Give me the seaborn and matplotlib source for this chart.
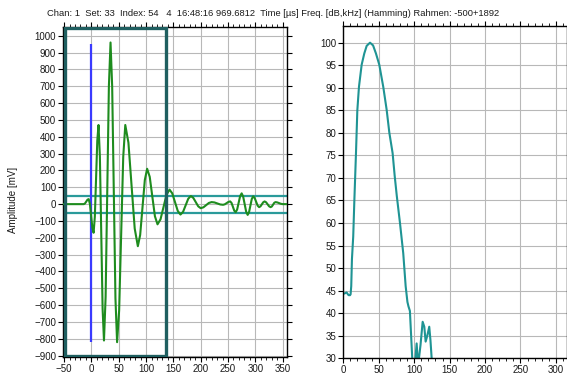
import numpy as np
import pandas as pd
import matplotlib
matplotlib.use("Agg")
import matplotlib.pyplot as plt
from matplotlib.ticker import MultipleLocator
from matplotlib.patches import Rectangle
import seaborn as sns

# Time signal (µs, mV)
wave_t = [-52, -30, -14, -11.75, -9.5, -7.25, -5, -2.75, -0.5, 1.75, 4,
          6.25, 8.5, 10.75, 13, 15.5, 18, 20.5, 23, 26, 29, 32, 35,
          38, 41, 44, 47, 50.75, 54.5, 58.25, 62, 67.75, 73.5, 79.25, 85,
          89.25, 93.5, 97.75, 102, 106.75, 111.5, 116.25, 121, 126.5, 132, 137.5, 143,
          148, 153, 158, 163, 167.75, 172.5, 177.25, 182, 186.5, 191, 195.5, 200,
          205, 210, 215, 220, 225.25, 230.5, 235.75, 241, 244.25, 247.5, 250.75, 254,
          256.5, 259, 261.5, 264, 266.75, 269.5, 272.25, 275, 277.75, 280.5, 283.25, 286,
          288.5, 291, 293.5, 296, 298.75, 301.5, 304.25, 307, 309.5, 312, 314.5, 317,
          319.75, 322.5, 325.25, 328, 330.25, 332.5, 334.75, 337, 340.25, 343.5, 346.75, 350,
          358]
wave_mv = [0, 0, 0, 4, 15, 26, 30, 1, -70, -141, -170,
           -76, 150, 376, 470, 283, -170, -623, -810, -551, 75, 701, 960,
           699, 70, -559, -820, -631, -175, 281, 470, 365, 110, -145, -250,
           -183, -20, 143, 210, 162, 45, -72, -120, -90, -17, 56, 86,
           64, 12, -40, -62, -46, -7, 32, 48, 37, 12, -13, -24,
           -19, -6, 7, 12, 10, 4, -2, -4, -1, 6, 13, 16,
           7, -16, -39, -48, -32, 8, 48, 64, 45, 0, -45, -64,
           -48, -9, 30, 46, 37, 14, -9, -18, -13, -1, 11, 16,
           11, -1, -13, -18, -14, -3, 8, 12, 10, 6, 2, 0,
           0]

# Trigger marker and threshold band
trigger_t = 0
trigger_span = [-820, 950]
threshold_mv = 50
window_t = [-49, 136]
window_mv = [-900, 1044]

# Spectrum (kHz, dB)
spec_khz = [0, 2, 4.7, 6, 7.5, 9.5, 10.3, 11.2, 12.2, 14,
            15.6, 17.9, 19.8, 22.1, 25.9, 29.6, 33, 37.7, 42, 46.1,
            50.8, 56.4, 61.2, 65, 69.6, 72.5, 75.5, 80, 84.6, 88,
            90.5, 92, 94, 97.3, 98.5, 100.5, 101.8, 103.5, 104.9, 106,
            106.8, 109, 112, 114.3, 116.2, 118.5, 121.3, 123, 124.7, 126]
spec_db = [44.3, 44.4, 44.6, 44.3, 44.0, 44.0, 44.2, 46, 52, 57,
           65, 75.5, 85, 90.2, 95.1, 97.6, 99.3, 100, 99.4, 97.6,
           95.1, 90.2, 85.1, 80, 75.5, 70.5, 66, 60, 53.3, 46,
           42.5, 41.5, 40.5, 30, 27, 27, 30, 33.3, 30, 27,
           30, 33, 38.1, 37, 33.7, 35, 37, 34, 30, 27]

title = ("Chan: 1  Set: 33  Index: 54   4  16:48:16 969.6812  Time [µs] "
         "Freq. [dB,kHz] (Hamming) Rahmen: -500+1892")

sns.set_theme(style="white")
plt.rcParams["font.family"] = ["Liberation Sans", "DejaVu Sans"]
plt.rcParams["font.size"] = 7

W, H = 567, 376
fig = plt.figure(figsize=(W / 100, H / 100), dpi=100)
fig.patch.set_facecolor("white")

def px_axes(x0, y0, x1, y1):
    return fig.add_axes([x0 / W, 1 - y1 / H, (x1 - x0) / W, (y1 - y0) / H])

ax1 = px_axes(63, 27, 287, 357)
ax2 = px_axes(343.3, 26, 566.5, 358.3)

grid_col = "#b8b8b8"
for ax in (ax1, ax2):
    ax.set_facecolor("white")
    ax.grid(True, which="major", color=grid_col, linewidth=0.8)
    ax.set_axisbelow(True)
    for s in ax.spines.values():
        s.set_color("black")
        s.set_linewidth(1.0)
        s.set_visible(True)
    ax.xaxis.set_major_locator(MultipleLocator(50))
    ax.xaxis.set_minor_locator(MultipleLocator(10))
    ax.tick_params(which="both", direction="out", top=True, right=True,
                   bottom=True, left=True, labeltop=False, labelright=False,
                   colors="black", labelcolor="#1a1a1a", labelsize=7, pad=1.5)
    ax.tick_params(which="major", length=3.5, width=0.8)
    ax.tick_params(which="minor", length=2, width=0.6)

# Left panel: time signal
wave = pd.DataFrame({"t": wave_t, "mv": wave_mv})
ax1.axhline(threshold_mv, color="#2a9a9a", linewidth=1.6, zorder=2)
ax1.axhline(-threshold_mv, color="#2a9a9a", linewidth=1.6, zorder=2)
ax1.vlines(trigger_t, trigger_span[0], trigger_span[1], color="#3a3aff",
           linewidth=1.6, zorder=3)
sns.lineplot(data=wave, x="t", y="mv", ax=ax1, color="#1e8c1e",
             linewidth=1.5, estimator=None, sort=False, zorder=4)
ax1.add_patch(Rectangle((window_t[0], window_mv[0]), window_t[1] - window_t[0],
                        window_mv[1] - window_mv[0], fill=False,
                        edgecolor="#1f5f60", linewidth=2.4, zorder=5))
ax1.set_xlim(-52, 358)
ax1.set_ylim(-908, 1052)
ax1.yaxis.set_major_locator(MultipleLocator(100))
ax1.set_xlabel("")
ax1.set_ylabel("")
fig.text(13 / W, 1 - 200 / H, "Amplitude [mV]", rotation=90, ha="center",
         va="center", fontsize=7, color="#1a1a1a")

# Right panel: spectrum
spec = pd.DataFrame({"khz": spec_khz, "db": spec_db})
sns.lineplot(data=spec, x="khz", y="db", ax=ax2, color="#1f9494",
             linewidth=1.5, estimator=None, sort=False)
ax2.set_xlim(0, 315)
ax2.set_ylim(30, 103.7)
ax2.yaxis.set_major_locator(MultipleLocator(5))
ax2.set_xlabel("")
ax2.set_ylabel("")

fig.text(273 / W, 1 - 14 / H, title, ha="center", va="center", fontsize=6.75,
         color="#1a1a1a")

fig.savefig("out.png", dpi=100, facecolor="white")
